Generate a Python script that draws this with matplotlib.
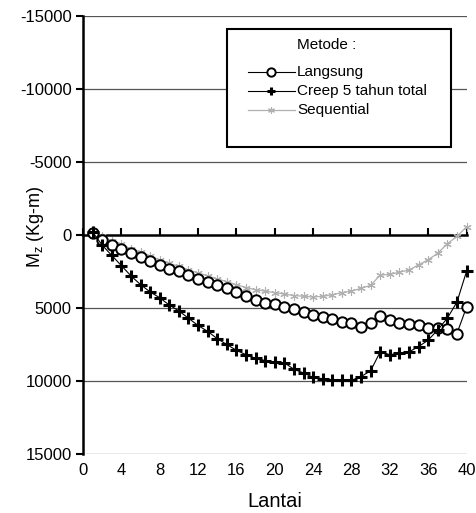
import matplotlib
matplotlib.use("Agg")
import matplotlib.pyplot as plt
from matplotlib.patches import Rectangle
from matplotlib.lines import Line2D

plt.rcParams['font.family'] = ['Liberation Sans', 'DejaVu Sans']
plt.rcParams['axes.unicode_minus'] = False

# Momen Mz per lantai (Kg-m)
lantai = list(range(1, 41))
langsung = [-100, 350, 700, 950, 1250, 1500, 1800, 2050, 2300, 2500,
            2750, 3000, 3200, 3450, 3650, 3900, 4200, 4450, 4650, 4750,
            4900, 5100, 5250, 5450, 5600, 5750, 5950, 6050, 6300, 6000,
            5550, 5800, 6000, 6100, 6200, 6350, 6400, 6450, 6750, 4950]
creep = [-200, 700, 1400, 2100, 2800, 3400, 3900, 4300, 4800, 5200,
         5700, 6200, 6600, 7100, 7500, 7900, 8200, 8450, 8600, 8700,
         8750, 9200, 9450, 9750, 9850, 9950, 9900, 9950, 9700, 9300,
         8000, 8200, 8100, 8000, 7650, 7200, 6500, 5700, 4600, 2500]
sequential = [-350, 100, 400, 650, 950, 1200, 1450, 1700, 1950, 2150,
              2400, 2600, 2800, 3000, 3200, 3400, 3600, 3750, 3850, 3950,
              4050, 4150, 4200, 4250, 4200, 4100, 3950, 3850, 3650, 3450,
              2750, 2700, 2550, 2400, 2050, 1700, 1250, 600, 100, -550]

x_ticks = list(range(0, 41, 4))
y_ticks = list(range(-15000, 15001, 5000))

W, H = 477, 513
fig = plt.figure(figsize=(W / 100, H / 100), dpi=100)
ax = fig.add_axes([0.174, 0.115, 0.804, 0.854])

# garis grid horizontal
for yv in y_ticks:
    if yv != 0:
        ax.axhline(yv, color='#555555', lw=0.9, zorder=1)

seq_style = dict(color='#b0b0b0', lw=0.9, marker=(6, 2, 0), ms=6, mew=0.8)
lang_style = dict(color='black', lw=0.8, marker='o', ms=7.5, mfc='white',
                  mec='black', mew=1.4)
creep_style = dict(color='black', lw=0.8, marker='+', ms=8, mew=2.2)

ax.plot(lantai, sequential, zorder=3, clip_on=False, **seq_style)
ax.plot(lantai, langsung, zorder=4, clip_on=False, **lang_style)
ax.plot(lantai, creep, zorder=5, clip_on=False, **creep_style)

ax.set_xlim(0, 40)
ax.set_ylim(15000, -15000)
ax.set_xticks(x_ticks)
ax.set_yticks(y_ticks)

# sumbu x berada pada Mz = 0, label tetap di bawah
ax.spines['right'].set_visible(False)
ax.spines['bottom'].set_visible(False)
ax.spines['top'].set_position(('data', 0))
ax.spines['top'].set_linewidth(1.8)
ax.spines['left'].set_linewidth(1.8)
ax.tick_params(axis='x', bottom=False, top=True, labelbottom=True,
               labeltop=False, direction='out', length=5, width=1.5,
               labelsize=12, pad=1.5)
ax.tick_params(axis='y', direction='out', length=5, width=1.5,
               labelsize=12, pad=3)

ax.set_xlabel('Lantai', fontsize=14.5)
ax.xaxis.set_label_coords(0.5, 1 - (501 - 16) / 438, transform=ax.transAxes)
ax.xaxis.label.set_va('center')
ax.set_ylabel('M$_\\mathregular{z}$ (Kg-m)', fontsize=13)
ax.yaxis.set_label_coords(35 / W, 1 - 227 / H, transform=fig.transFigure)
ax.yaxis.label.set_va('center')


def fx(px):
    return px / W


def fy(py):
    return 1 - py / H


# kotak legenda
box = Rectangle((fx(227), fy(147)), 224 / W, 118 / H,
                transform=fig.transFigure, facecolor='white',
                edgecolor='black', lw=1.5, zorder=6)
fig.patches.append(box)

fig.text(fx(297), fy(45), 'Metode :', fontsize=11, va='center', zorder=8)
entries = [('Langsung', lang_style, 72), ('Creep 5 tahun total', creep_style, 91),
           ('Sequential', seq_style, 110)]
for label, style, row in entries:
    st = dict(style)
    st['ms'] = st['ms'] * 0.8
    fig.add_artist(Line2D([fx(248), fx(295)], [fy(row), fy(row)],
                          transform=fig.transFigure, zorder=8,
                          markevery=[], **st))
    fig.add_artist(Line2D([fx(271.5)], [fy(row)], transform=fig.transFigure,
                          zorder=9, **st))
    fig.text(fx(297), fy(row), label, fontsize=11, va='center', zorder=8)

fig.savefig('out.png', dpi=100)
